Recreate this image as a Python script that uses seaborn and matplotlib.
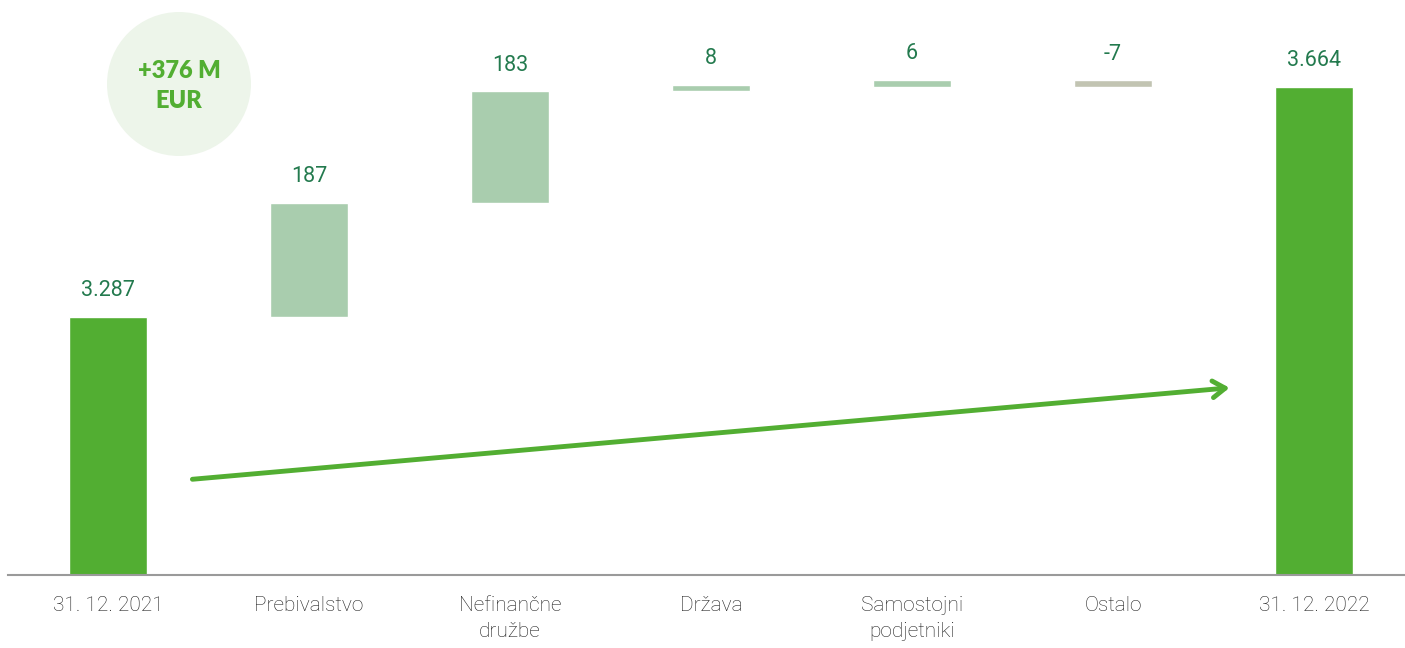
import numpy as np
import pandas as pd
import seaborn as sns
import matplotlib.pyplot as plt
from matplotlib.patches import Circle

# data (M EUR)
categories = ["31. 12. 2021", "Prebivalstvo", "Nefinančne\ndružbe", "Država",
              "Samostojni\npodjetniki", "Ostalo", "31. 12. 2022"]
start_value = 3287
changes = [187, 183, 8, 6, -7]
end_value = 3664
total_change = "+376 M\nEUR"

green = "#52ae32"
light_green = "#a9cdae"
grey_green = "#c2c4b2"
label_col = "#237a4e"

# waterfall bottoms / tops
cum = np.cumsum([start_value] + changes)
bottoms = [0] + list(cum[:-1]) + [0]
tops = [start_value] + list(cum[1:]) + [end_value]
labels = [start_value] + changes + [end_value]
colors = [green] + [light_green if c > 0 else grey_green for c in changes] + [green]

df = pd.DataFrame({"cat": categories, "top": tops})

sns.set_theme(style="white")
plt.rcParams["font.family"] = ["Roboto", "DejaVu Sans"]

fig = plt.figure(figsize=(14.05, 6.48), dpi=100)
ax = fig.add_axes([7.5 / 1405, 73 / 648, 1 - 7.5 / 1405, 575 / 648])

sns.barplot(data=df, x="cat", y="top", hue="cat", palette=colors, legend=False,
            width=0.39, saturation=1, ax=ax)

# turn the change bars into floating bars (tiny ones get a visible minimum)
min_h = 11
for p, b, t in zip(ax.patches, bottoms, tops):
    if b != 0:
        lo, hi = min(b, t), max(b, t)
        if hi - lo < min_h:
            hi = lo + min_h
        p.set_y(lo)
        p.set_height(hi - lo)

ax.set_ylim(2864, 3807)
ax.set_xlim(-0.5, 6.453)

def fmt(v):
    return f"{v:,}".replace(",", ".")

for i, (b, t, v) in enumerate(zip(bottoms, tops, labels)):
    y = max(b, t)
    if b != 0:
        y = max(y, min(b, t) + min_h)
    ax.annotate(fmt(v), (i, y), xytext=(0, 15), textcoords="offset points",
                ha="center", va="baseline", fontsize=15.5, color=label_col)

# trend arrow
ax.annotate("", xy=(5.58, 3171), xytext=(0.42, 3021),
            arrowprops=dict(arrowstyle="->,head_length=0.75,head_width=0.5",
                            color=green, lw=3.5, capstyle="round",
                            joinstyle="round", shrinkA=0, shrinkB=0))

sns.despine(ax=ax, left=True, top=True, right=True)
ax.spines["bottom"].set_color("#9a9a9a")
ax.spines["bottom"].set_linewidth(1.5)
ax.set_yticks([])
ax.set_xlabel("")
ax.set_ylabel("")
ax.tick_params(axis="x", length=0, pad=15, labelsize=15, labelcolor="#1e1e1e")
for lbl in ax.get_xticklabels():
    lbl.set_linespacing(1.45)
    lbl.set_fontweight("light")

# total change bubble
circ = Circle((1.79, 5.64), 0.72, transform=fig.dpi_scale_trans,
              facecolor="#edf5ea", edgecolor="none", zorder=0)
fig.patches.append(circ)
fig.text(1.79 / 14.05, 5.62 / 6.48, total_change, ha="center", va="center",
         fontsize=17, fontweight="heavy", color=green, linespacing=1.45,
         family=["Lato", "DejaVu Sans"])

fig.savefig("out.png", dpi=100)
